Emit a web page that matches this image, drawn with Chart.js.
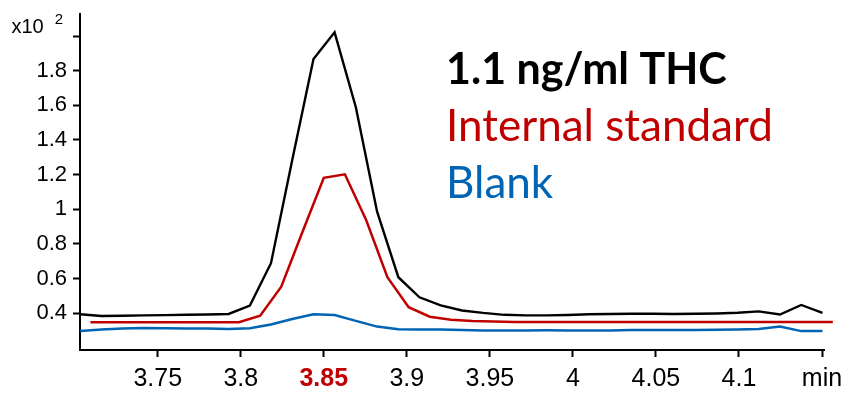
<!DOCTYPE html>
<html>
<head>
<meta charset="utf-8">
<script src="https://cdn.jsdelivr.net/npm/chart.js@4.4.1/dist/chart.umd.min.js"></script>
<style>
  html, body { margin: 0; padding: 0; background: #fff; }
  #wrap { width: 852px; height: 393px; }
</style>
</head>
<body>
<div id="wrap"><canvas id="chrom" width="852" height="393"></canvas></div>
<script>
// retention times (min) for the THC and blank traces
const THC_TIME = [3.7033, 3.7161, 3.7288, 3.7416, 3.7544, 3.7672, 3.7799, 3.7927, 3.8055, 3.8182,
  3.8310, 3.8438, 3.8565, 3.8693, 3.8821, 3.8949, 3.9076, 3.9204, 3.9332, 3.9459,
  3.9587, 3.9715, 3.9842, 3.9970, 4.0098, 4.0226, 4.0353, 4.0481, 4.0609, 4.0736,
  4.0864, 4.0992, 4.1119, 4.1247, 4.1375, 4.1503];
// internal standard transition is sampled half a cycle later
const ISTD_TIME = [3.7095, 3.7223, 3.7350, 3.7478, 3.7606, 3.7734, 3.7861, 3.7989, 3.8117, 3.8244,
  3.8372, 3.8500, 3.8627, 3.8755, 3.8883, 3.9011, 3.9138, 3.9266, 3.9394, 3.9521,
  3.9649, 3.9777, 3.9904, 4.0032, 4.0160, 4.0288, 4.0415, 4.0543, 4.0671, 4.0798,
  4.0926, 4.1054, 4.1181, 4.1309, 4.1437, 4.1565];

// intensities, x10^2
const THC = [0.394, 0.384, 0.386, 0.388, 0.389, 0.391, 0.393, 0.396, 0.444, 0.689,
  1.285, 1.867, 2.021, 1.589, 0.986, 0.608, 0.492, 0.446, 0.416, 0.402,
  0.391, 0.388, 0.388, 0.390, 0.394, 0.396, 0.397, 0.397, 0.396, 0.397,
  0.399, 0.403, 0.411, 0.393, 0.448, 0.402];
const ISTD = [0.348, 0.348, 0.348, 0.348, 0.348, 0.348, 0.348, 0.348, 0.386, 0.553,
  0.870, 1.182, 1.202, 0.938, 0.608, 0.435, 0.380, 0.363, 0.356, 0.352,
  0.349, 0.349, 0.349, 0.349, 0.349, 0.349, 0.349, 0.349, 0.349, 0.349,
  0.349, 0.349, 0.349, 0.349, 0.349, 0.349];
const BLANK = [0.298, 0.307, 0.312, 0.315, 0.314, 0.312, 0.312, 0.309, 0.313, 0.335,
  0.367, 0.394, 0.390, 0.356, 0.323, 0.308, 0.306, 0.306, 0.303, 0.300,
  0.300, 0.301, 0.302, 0.301, 0.300, 0.301, 0.303, 0.303, 0.304, 0.304,
  0.305, 0.306, 0.309, 0.324, 0.297, 0.297];

const X_TICKS = [3.75, 3.8, 3.85, 3.9, 3.95, 4, 4.05, 4.1, 4.15];
const Y_TICKS = [0.4, 0.6, 0.8, 1, 1.2, 1.4, 1.6, 1.8, 2];
const MARKED_RT = 3.85;
const LEGEND = ["1.1 ng/ml THC", "Internal standard", "Blank"];

const BLACK = "#000000";
const RED = "#c00000";
const BLUE = "#0064b4";
const AXIS_FONT = "'Liberation Sans', Arial, sans-serif";
const NAME_FONT = "Lato, 'Open Sans', sans-serif";

function toPoints(times, values) {
  return times.map((t, i) => ({ x: t, y: values[i] }));
}

// "x10 2" multiplier above the y axis, and the coloured trace names
const annotations = {
  id: "annotations",
  afterDraw(chart) {
    const c = chart.ctx;
    const y = chart.scales.y;
    const py = y.getPixelForValue(2);
    const edge = y.right - 7 - 6;
    c.save();
    c.fillStyle = BLACK;
    c.textAlign = "right";
    c.textBaseline = "alphabetic";
    c.font = `15px ${AXIS_FONT}`;
    c.fillText("2", edge - 4, py - 12);
    const w = c.measureText("2").width;
    c.font = `20px ${AXIS_FONT}`;
    c.fillText("x10", edge - 4 - w - 11, py - 3);

    c.textAlign = "left";
    const lx = 446;
    c.font = `bold 43px ${NAME_FONT}`;
    c.fillStyle = BLACK;
    c.fillText(LEGEND[0], lx, 84);
    c.font = `44px ${NAME_FONT}`;
    c.fillStyle = RED;
    c.fillText(LEGEND[1], lx, 141);
    c.fillStyle = BLUE;
    c.fillText(LEGEND[2], lx, 198);
    c.restore();
  }
};

const ctx = document.getElementById("chrom").getContext("2d");
new Chart(ctx, {
  type: "line",
  data: {
    datasets: [
      { label: LEGEND[0], data: toPoints(THC_TIME, THC), borderColor: BLACK, borderWidth: 2.4 },
      { label: LEGEND[1], data: toPoints(ISTD_TIME, ISTD), borderColor: RED, borderWidth: 2.5, clip: false },
      { label: LEGEND[2], data: toPoints(THC_TIME, BLANK), borderColor: BLUE, borderWidth: 2.5 }
    ]
  },
  options: {
    responsive: false,
    animation: false,
    layout: { padding: { top: 14, right: 28, left: 0, bottom: 0 } },
    elements: { point: { radius: 0 }, line: { tension: 0, fill: false } },
    plugins: { legend: { display: false }, tooltip: { enabled: false } },
    scales: {
      x: {
        type: "linear",
        min: 3.7032,
        max: 4.1512,
        afterBuildTicks: (s) => { s.ticks = X_TICKS.map((v) => ({ value: v })); },
        afterFit: (s) => { s.height = 43; s.paddingLeft = 0; s.paddingRight = 0; },
        border: { display: true, color: BLACK, width: 2 },
        grid: { drawOnChartArea: false, drawTicks: true, tickLength: 7, tickWidth: 2, tickColor: BLACK },
        ticks: {
          autoSkip: false,
          maxRotation: 0,
          padding: 7,
          color: (c) => (c.tick && c.tick.value === MARKED_RT ? RED : BLACK),
          font: (c) => ({
            family: AXIS_FONT,
            size: 25,
            weight: c.tick && c.tick.value === MARKED_RT ? "bold" : "normal"
          }),
          callback: (v) => (v === 4.15 ? "min" : String(v))
        }
      },
      y: {
        min: 0.188,
        max: 2.127,
        afterBuildTicks: (s) => { s.ticks = Y_TICKS.map((v) => ({ value: v })); },
        afterFit: (s) => { s.width = 80; s.paddingTop = 0; s.paddingBottom = 0; },
        border: { display: true, color: BLACK, width: 2 },
        grid: { drawOnChartArea: false, drawTicks: true, tickLength: 7, tickWidth: 2, tickColor: BLACK },
        ticks: {
          padding: 6,
          color: BLACK,
          font: { family: AXIS_FONT, size: 22 },
          callback: (v) => (v === 2 ? "" : String(v))
        }
      }
    }
  },
  plugins: [annotations]
});
</script>
</body>
</html>
